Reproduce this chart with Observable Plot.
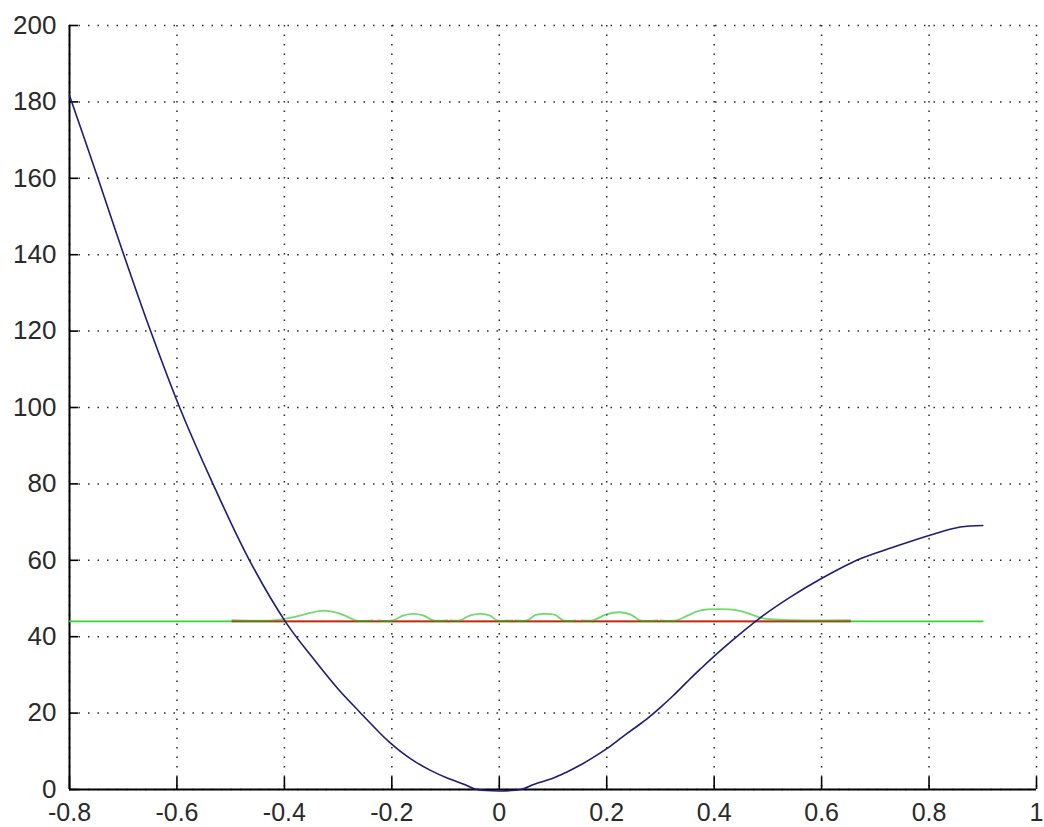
<!DOCTYPE html>
<html><head><meta charset="utf-8">
<script src="https://cdn.jsdelivr.net/npm/d3@7"></script>
<script src="https://cdn.jsdelivr.net/npm/@observablehq/plot@0.6"></script>
<style>body{margin:0;background:#fff;} #chart svg{display:block;}</style>
</head><body><div id="chart"></div>
<script>
// Tick values and labels
const xTicks = [-0.8, -0.6, -0.4, -0.2, 0, 0.2, 0.4, 0.6, 0.8, 1];
const xTickLabels = ["-0.8", "-0.6", "-0.4", "-0.2", "0", "0.2", "0.4", "0.6", "0.8", "1"];
const yTicks = [0, 20, 40, 60, 80, 100, 120, 140, 160, 180, 200];
const yTickLabels = ["0", "20", "40", "60", "80", "100", "120", "140", "160", "180", "200"];

// Blue curve
const blueX = [-0.8, -0.747, -0.699, -0.649, -0.595, -0.533, -0.465, -0.396, -0.348, -0.3, -0.26, -0.221, -0.203, -0.184, -0.159, -0.128, -0.097, -0.066, -0.041, 0.04, 0.064, 0.101, 0.126, 0.151, 0.175, 0.2, 0.225, 0.25, 0.275, 0.3, 0.324, 0.349, 0.374, 0.417, 0.491, 0.541, 0.598, 0.672, 0.733, 0.8, 0.858, 0.9];
const blueY = [181.7, 160, 140, 120, 100, 80, 60, 43.5, 34.6, 26.3, 20.3, 14.6, 12.2, 10.0, 7.5, 5.0, 3.0, 1.4, 0, 0, 1.3, 3.0, 4.6, 6.4, 8.4, 10.7, 13.3, 15.9, 18.5, 21.5, 24.6, 28.1, 31.5, 37.0, 45.5, 50.3, 55.1, 60.4, 63.4, 66.5, 68.7, 69.1];

// Flat green line
const flatGreenX = [-0.8, 0.9];
const flatGreenY = [44, 44];

// Red line
const redX = [-0.497, 0.653];
const redY = [44, 44];

// Wavy green pieces
const waveX = [
  -0.497, -0.42, -0.38, -0.35, -0.327, -0.305, -0.285, -0.268, -0.236,
  -0.225, -0.197, -0.178, -0.16, -0.142, -0.123, -0.097,
  -0.091, -0.073, -0.054, -0.035, -0.018, -0.004, 0.024,
  0.030, 0.052, 0.068, 0.086, 0.104, 0.119, 0.141,
  0.154, 0.175, 0.198, 0.225, 0.245, 0.262, 0.294,
  0.300, 0.331, 0.35, 0.375, 0.41, 0.443, 0.47, 0.491, 0.53, 0.653
];
const waveY = [
  44.3, 44.3, 45.2, 46.3, 46.8, 46.4, 45.4, 44.3, 44.3,
  44.3, 44.3, 45.6, 46.0, 45.6, 44.3, 44.3,
  44.3, 44.3, 45.6, 46.0, 45.6, 44.3, 44.3,
  44.3, 44.3, 45.7, 46.0, 45.7, 44.3, 44.3,
  44.3, 44.3, 45.8, 46.4, 45.8, 44.3, 44.3,
  44.3, 44.3, 45.5, 46.9, 47.2, 46.9, 45.8, 44.8, 44.4, 44.3
];
const waveSeg = [
  1,1,1,1,1,1,1,1,1,
  2,2,2,2,2,2,2,
  3,3,3,3,3,3,3,
  4,4,4,4,4,4,4,
  5,5,5,5,5,5,5,
  6,6,6,6,6,6,6,6,6,6
];

const blue = blueX.map((x, i) => ({x, y: blueY[i]}));
const flatGreen = flatGreenX.map((x, i) => ({x, y: flatGreenY[i]}));
const red = redX.map((x, i) => ({x, y: redY[i]}));
const wave = waveX.map((x, i) => ({x, y: waveY[i], seg: waveSeg[i]}));

const W = 1044, H = 827, mL = 69, mR = 8, mT = 25, mB = 38;
const innerW = W - mL - mR, innerH = H - mT - mB;

const chart = Plot.plot({
  width: W, height: H,
  marginLeft: mL, marginRight: mR, marginTop: mT, marginBottom: mB,
  style: {fontFamily: "'Liberation Sans', Arial, sans-serif", fontSize: "26px", color: "#2a2a2a", background: "#fff"},
  x: {domain: [-0.8, 1]},
  y: {domain: [0, 200]},
  marks: [
    Plot.gridX(xTicks, {stroke: "#000", strokeOpacity: 0.85, strokeWidth: 1.5, strokeDasharray: "1.5,8"}),
    Plot.gridY(yTicks, {stroke: "#000", strokeOpacity: 0.85, strokeWidth: 1.5, strokeDasharray: "1.5,8"}),
    Plot.gridX(xTicks, {stroke: "#000", strokeOpacity: 1, strokeWidth: 1.6, insetTop: innerH - 12}),
    Plot.gridY(yTicks, {stroke: "#000", strokeOpacity: 1, strokeWidth: 1.6, insetRight: innerW - 9}),
    Plot.axisY(yTicks, {tickSize: 0, tickPadding: 13, label: null, fontSize: 26, fill: "#2a2a2a",
      tickFormat: d => yTickLabels[yTicks.indexOf(d)]}),
    Plot.axisX(xTicks, {tickSize: 0, tickPadding: 14, label: null, fontSize: 25, fill: "#2a2a2a",
      tickFormat: d => xTickLabels[xTicks.indexOf(d)]}),
    Plot.ruleX([-0.8], {stroke: "#000", strokeWidth: 2}),
    Plot.ruleY([0], {stroke: "#000", strokeWidth: 2}),
    Plot.line(flatGreen, {x: "x", y: "y", stroke: "#2ed82e", strokeWidth: 1.6}),
    Plot.line(red, {x: "x", y: "y", stroke: "#e01818", strokeWidth: 1.6}),
    Plot.line(wave, {x: "x", y: "y", z: "seg", stroke: "#10c010", strokeOpacity: 0.6, strokeWidth: 1.8, curve: "catmull-rom"}),
    Plot.line(blue, {x: "x", y: "y", stroke: "#1c1c78", strokeWidth: 1.6, curve: "catmull-rom"})
  ]
});
document.getElementById("chart").appendChild(chart);
</script>
</body></html>
